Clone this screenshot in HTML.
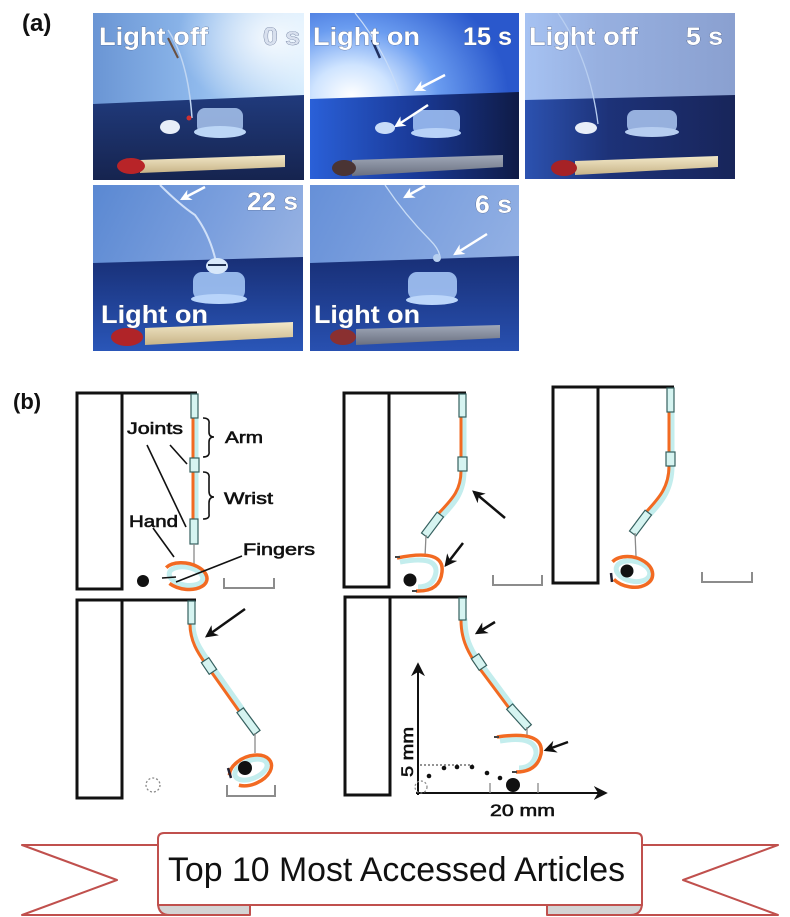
<!DOCTYPE html>
<html><head><meta charset="utf-8"><style>
html,body{margin:0;padding:0;background:#fff;}
svg{display:block;}
.pt{font-family:"Liberation Sans",Arial,sans-serif;font-weight:bold;font-size:25px;fill:#fff;stroke:#45577f;stroke-width:0.6;paint-order:stroke;}
.lb{font-family:"Liberation Sans",Arial,sans-serif;font-size:17px;fill:#111;stroke:#111;stroke-width:0.6;}
.ol{fill:none;stroke:#111;stroke-width:3;}
.cy{fill:none;stroke:#c3eded;stroke-width:7;stroke-linecap:round;}
.or{fill:none;stroke:#f26a22;stroke-width:3;stroke-linecap:round;}
.jt{fill:#d6f4f1;stroke:#35605f;stroke-width:1.2;}
.gl{stroke:#8a8a8a;stroke-width:1.3;fill:none;}
.sb{stroke:#8c8c8c;stroke-width:2;fill:none;}
.ar{stroke:#111;stroke-width:2.5;fill:none;marker-end:url(#ah);}
.wa{stroke:#fff;stroke-width:2.5;fill:none;marker-end:url(#wh);}
</style></head><body>
<svg width="790" height="917" viewBox="0 0 790 917" xmlns="http://www.w3.org/2000/svg">
<defs>
<marker id="ah" viewBox="0 0 10 10" refX="8" refY="5" markerWidth="5" markerHeight="5" orient="auto"><path d="M0,0 L10,5 L0,10 L3,5 z" fill="#111"/></marker>
<marker id="wh" viewBox="0 0 10 10" refX="8" refY="5" markerWidth="4.5" markerHeight="4.5" orient="auto"><path d="M0,0 L10,5 L0,10 L3,5 z" fill="#fff"/></marker>
<marker id="ax" viewBox="0 0 10 10" refX="8" refY="5" markerWidth="7" markerHeight="7" orient="auto"><path d="M0,0 L10,5 L0,10 L3,5 z" fill="#111"/></marker>
<clipPath id="c1"><rect x="93" y="13" width="211" height="167"/></clipPath>
<clipPath id="c2"><rect x="310" y="13" width="209" height="166"/></clipPath>
<clipPath id="c3"><rect x="525" y="13" width="210" height="166"/></clipPath>
<clipPath id="c4"><rect x="93" y="185" width="210" height="166"/></clipPath>
<clipPath id="c5"><rect x="310" y="185" width="209" height="166"/></clipPath>
<linearGradient id="g1u" x1="0" y1="0" x2="1" y2="0"><stop offset="0" stop-color="#6a95d4"/><stop offset="0.5" stop-color="#8fb9ec"/><stop offset="1" stop-color="#cde8fd"/></linearGradient>
<radialGradient id="g1g" cx="0.85" cy="0.15" r="0.45"><stop offset="0" stop-color="#ffffff" stop-opacity="0.85"/><stop offset="1" stop-color="#ffffff" stop-opacity="0"/></radialGradient>
<linearGradient id="g1t" x1="0" y1="0" x2="0" y2="1"><stop offset="0" stop-color="#203a7c"/><stop offset="1" stop-color="#16244f"/></linearGradient>
<radialGradient id="g2u" cx="0.2" cy="0.5" r="0.75"><stop offset="0" stop-color="#ffffff"/><stop offset="0.25" stop-color="#cfe4ff"/><stop offset="0.55" stop-color="#6a9cf0"/><stop offset="1" stop-color="#2a58cc"/></radialGradient>
<linearGradient id="g2t" x1="0" y1="0" x2="1" y2="0"><stop offset="0" stop-color="#2a60d8"/><stop offset="0.5" stop-color="#1a3a98"/><stop offset="1" stop-color="#0f1b46"/></linearGradient>
<linearGradient id="g3u" x1="0" y1="0" x2="1" y2="0"><stop offset="0" stop-color="#a6c2f2"/><stop offset="0.35" stop-color="#97b0e0"/><stop offset="1" stop-color="#8aa0d0"/></linearGradient>
<linearGradient id="g3t" x1="0" y1="0" x2="1" y2="0"><stop offset="0" stop-color="#2c52b0"/><stop offset="0.4" stop-color="#1d3278"/><stop offset="1" stop-color="#18255a"/></linearGradient>
<linearGradient id="g4u" x1="0" y1="0" x2="1" y2="0.4"><stop offset="0" stop-color="#5a88d2"/><stop offset="0.6" stop-color="#7ca0de"/><stop offset="1" stop-color="#97b2e2"/></linearGradient>
<linearGradient id="g4t" x1="0" y1="0" x2="0" y2="1"><stop offset="0" stop-color="#182f76"/><stop offset="1" stop-color="#2a56b8"/></linearGradient>
<linearGradient id="g5u" x1="0" y1="0" x2="1" y2="0.4"><stop offset="0" stop-color="#6690d8"/><stop offset="1" stop-color="#92b0e4"/></linearGradient>
<linearGradient id="g5t" x1="0" y1="0" x2="0" y2="1"><stop offset="0" stop-color="#182f76"/><stop offset="1" stop-color="#2850b0"/></linearGradient>
<linearGradient id="stk" x1="0" y1="0" x2="0" y2="1"><stop offset="0" stop-color="#f2e8c8"/><stop offset="1" stop-color="#c8b488"/></linearGradient>
<linearGradient id="stk2" x1="0" y1="0" x2="0" y2="1"><stop offset="0" stop-color="#a0a8b8"/><stop offset="1" stop-color="#6a7080"/></linearGradient>
</defs>
<rect width="790" height="917" fill="#fff"/>

<text x="22" y="31" font-family="Liberation Sans, Arial, sans-serif" font-weight="bold" font-size="24" fill="#111">(a)</text>

<!-- Panel 1 -->
<g clip-path="url(#c1)">
<rect x="93" y="13" width="211" height="167" fill="url(#g1u)"/>
<rect x="93" y="13" width="211" height="167" fill="url(#g1g)"/>
<polygon points="93,104 304,95 304,180 93,180" fill="url(#g1t)"/>
<path d="M168,30 Q188,60 192,118" stroke="#c0d6f2" stroke-width="1.5" fill="none"/>
<path d="M168,38 L178,58" stroke="#6a5040" stroke-width="2"/>
<rect x="197" y="108" width="46" height="26" rx="8" fill="#a9c6ee" opacity="0.85"/>
<ellipse cx="220" cy="132" rx="26" ry="6" fill="#bcd6f6"/>
<ellipse cx="170" cy="127" rx="10" ry="7" fill="#e8eef8"/>
<circle cx="189" cy="118" r="2.5" fill="#d03030"/>
<polygon points="140,160 285,155 285,167 140,173" fill="url(#stk)"/>
<ellipse cx="131" cy="166" rx="14" ry="8" fill="#b82428"/>
</g>
<text class="pt" x="99" y="45" textLength="109" lengthAdjust="spacingAndGlyphs">Light off</text>
<text class="pt" x="263" y="45" textLength="37" lengthAdjust="spacingAndGlyphs" style="fill:#d8e0ee">0 s</text>

<!-- Panel 2 -->
<g clip-path="url(#c2)">
<rect x="310" y="13" width="209" height="166" fill="url(#g2u)"/>
<polygon points="310,99 519,92 519,179 310,179" fill="url(#g2t)"/>
<path d="M355,13 Q385,50 400,95" stroke="#c8dcf8" stroke-width="1.2" fill="none"/>
<path d="M372,40 L380,58" stroke="#203060" stroke-width="2.5"/>
<rect x="413" y="110" width="47" height="25" rx="8" fill="#9cbef2" opacity="0.9"/>
<ellipse cx="436" cy="133" rx="25" ry="5" fill="#b8d2f8"/>
<ellipse cx="385" cy="128" rx="10" ry="6" fill="#c8dcf8"/>
<polygon points="352,160 503,155 503,167 352,176" fill="url(#stk2)"/>
<ellipse cx="344" cy="168" rx="12" ry="8" fill="#4a3434"/>
<path class="wa" d="M445,75 L416,90"/>
<path class="wa" d="M428,105 L396,126"/>
</g>
<text class="pt" x="313" y="45" textLength="107" lengthAdjust="spacingAndGlyphs">Light on</text>
<text class="pt" x="463" y="45" textLength="49" lengthAdjust="spacingAndGlyphs">15 s</text>

<!-- Panel 3 -->
<g clip-path="url(#c3)">
<rect x="525" y="13" width="210" height="166" fill="url(#g3u)"/>
<polygon points="525,100 735,95 735,179 525,179" fill="url(#g3t)"/>
<path d="M558,13 Q590,60 598,124" stroke="#b8cef0" stroke-width="1.3" fill="none"/>
<rect x="627" y="110" width="50" height="23" rx="8" fill="#a4bfea" opacity="0.9"/>
<ellipse cx="652" cy="132" rx="27" ry="5" fill="#b6cdf0"/>
<ellipse cx="586" cy="128" rx="11" ry="6" fill="#e8eef8"/>
<polygon points="575,161 718,156 718,167 575,175" fill="url(#stk)"/>
<ellipse cx="564" cy="168" rx="13" ry="8" fill="#a62226"/>
</g>
<text class="pt" x="529" y="45" textLength="109" lengthAdjust="spacingAndGlyphs">Light off</text>
<text class="pt" x="686" y="45" textLength="37" lengthAdjust="spacingAndGlyphs">5 s</text>

<!-- Panel 4 -->
<g clip-path="url(#c4)">
<rect x="93" y="185" width="210" height="166" fill="url(#g4u)"/>
<polygon points="93,263 303,257 303,351 93,351" fill="url(#g4t)"/>
<path d="M160,185 Q180,205 195,215 Q210,235 216,262" stroke="#d0e0f8" stroke-width="2" fill="none"/>
<path class="wa" d="M205,187 L182,199"/>
<rect x="193" y="272" width="52" height="28" rx="9" fill="#a2c4f4" opacity="0.9"/>
<ellipse cx="219" cy="299" rx="28" ry="5" fill="#b8d4fa"/>
<ellipse cx="217" cy="266" rx="11" ry="8" fill="#d8e8fa"/>
<path d="M208,265 L226,265" stroke="#203050" stroke-width="2"/>
<polygon points="145,328 293,322 293,337 145,345" fill="url(#stk)"/>
<ellipse cx="127" cy="337" rx="16" ry="9" fill="#b02428"/>
</g>
<text class="pt" x="247" y="210" textLength="51" lengthAdjust="spacingAndGlyphs">22 s</text>
<text class="pt" x="101" y="323" textLength="107" lengthAdjust="spacingAndGlyphs">Light on</text>

<!-- Panel 5 -->
<g clip-path="url(#c5)">
<rect x="310" y="185" width="209" height="166" fill="url(#g5u)"/>
<polygon points="310,263 519,256 519,351 310,351" fill="url(#g5t)"/>
<path d="M385,185 Q405,215 430,240 Q440,250 440,258" stroke="#c8dcf6" stroke-width="1.3" fill="none"/>
<path class="wa" d="M425,186 L405,197"/>
<path class="wa" d="M487,234 L455,254"/>
<circle cx="437" cy="258" r="4" fill="#b8d0f0"/>
<rect x="408" y="272" width="49" height="28" rx="9" fill="#a4c4f4" opacity="0.9"/>
<ellipse cx="432" cy="300" rx="26" ry="5" fill="#bcd6fa"/>
<polygon points="356,329 500,325 500,338 356,345" fill="url(#stk2)"/>
<ellipse cx="343" cy="337" rx="13" ry="8" fill="#8a3030"/>
</g>
<text class="pt" x="475" y="213" textLength="37" lengthAdjust="spacingAndGlyphs">6 s</text>
<text class="pt" x="314" y="323" textLength="106" lengthAdjust="spacingAndGlyphs">Light on</text>

<text x="13" y="409" font-family="Liberation Sans, Arial, sans-serif" font-weight="bold" font-size="22" fill="#111">(b)</text>

<!-- b1 -->
<rect class="ol" x="77" y="393" width="45" height="196"/>
<path class="ol" d="M122,393 L197,393"/>
<path class="cy" d="M195,418 L195,458 M195,472 L195,519"/>
<path class="or" d="M193,418 L193,458 M193,472 L193,519"/>
<rect class="jt" x="191" y="394" width="7" height="24"/>
<rect class="jt" x="190" y="458" width="9" height="14"/>
<rect class="jt" x="190" y="519" width="8" height="25"/>
<path class="gl" d="M194,544 L194,564"/>
<g transform="rotate(10 185 576)">
<ellipse cx="186" cy="576" rx="17" ry="9" fill="none" stroke="#c3eded" stroke-width="5"/>
<path d="M165,571 A22,13 0 1,1 171,586" fill="none" stroke="#f26a22" stroke-width="3.5"/>
</g>
<circle cx="143" cy="581" r="6" fill="#111"/>
<path d="M162,578 L176,577" stroke="#111" stroke-width="1.5"/>
<path d="M242,556 L176,582" stroke="#111" stroke-width="1.6"/>
<path d="M153,528 L174,557" stroke="#111" stroke-width="1.6"/>
<path d="M147,445 L186,527" stroke="#111" stroke-width="1.6"/>
<path d="M170,445 L187,464" stroke="#111" stroke-width="1.6"/>
<path d="M203,418 Q210,418 209,424 L209,432 Q209,437 214,437 Q209,437 209,442 L209,451 Q210,457 203,457" fill="none" stroke="#111" stroke-width="1.6"/>
<path d="M203,472 Q210,472 209,478 L209,491 Q209,497 214,497 Q209,497 209,503 L209,514 Q210,519 203,519" fill="none" stroke="#111" stroke-width="1.6"/>
<text class="lb" x="127" y="434" textLength="56" lengthAdjust="spacingAndGlyphs">Joints</text>
<text class="lb" x="225" y="443" textLength="38" lengthAdjust="spacingAndGlyphs">Arm</text>
<text class="lb" x="224" y="504" textLength="49" lengthAdjust="spacingAndGlyphs">Wrist</text>
<text class="lb" x="129" y="527" textLength="49" lengthAdjust="spacingAndGlyphs">Hand</text>
<text class="lb" x="243" y="555" textLength="72" lengthAdjust="spacingAndGlyphs">Fingers</text>
<path class="sb" d="M224,578 L224,588 L274,588 L274,578"/>

<!-- b2 -->
<rect class="ol" x="344" y="393" width="45" height="194"/>
<path class="ol" d="M389,393 L466,393"/>
<path class="cy" d="M463,417 L463,457 M463,471 C463,492 454,502 442,515"/>
<path class="or" d="M461,417 L461,457 M461,471 C461,491 451,500 439,513"/>
<rect class="jt" x="459" y="394" width="7" height="23"/>
<rect class="jt" x="458" y="457" width="9" height="14"/>
<rect class="jt" transform="translate(432.5,525) rotate(126.9)" x="-13" y="-4" width="26" height="8"/>
<path class="gl" d="M426,535 L425,557"/>
<path d="M400,562 Q437,555 436,572 Q434,587 418,587" fill="none" stroke="#c3eded" stroke-width="5"/>
<path d="M397,558 Q445,548 442,572 Q440,592 416,591" fill="none" stroke="#f26a22" stroke-width="3.5"/>
<path d="M395,557 L400,557 M412,591 L417,591" stroke="#444" stroke-width="2"/>
<circle cx="410" cy="580" r="6.5" fill="#111"/>
<path class="ar" d="M505,518 L474,492"/>
<path class="ar" d="M463,543 L446,565"/>
<path class="sb" d="M493,575 L493,585 L542,585 L542,575"/>

<!-- b3 -->
<rect class="ol" x="553" y="387" width="45" height="196"/>
<path class="ol" d="M598,387 L674,387"/>
<path class="cy" d="M671,412 L671,452 M671,466 C671,488 662,500 650,513"/>
<path class="or" d="M669,412 L669,452 M669,466 C669,487 659,498 647,511"/>
<rect class="jt" x="667" y="388" width="7" height="24"/>
<rect class="jt" x="666" y="452" width="9" height="14"/>
<rect class="jt" transform="translate(640.5,523) rotate(126.9)" x="-13" y="-4" width="26" height="8"/>
<path class="gl" d="M635,533 L636,556"/>
<g transform="rotate(12 632 571)">
<ellipse cx="633" cy="571" rx="17" ry="10" fill="none" stroke="#c3eded" stroke-width="5"/>
<path d="M611,566 A22,15 0 1,1 616,583" fill="none" stroke="#f26a22" stroke-width="3.5"/>
</g>
<path d="M611,573 L612,582" stroke="#223" stroke-width="2.5"/>
<circle cx="627" cy="571" r="6.5" fill="#111"/>
<path class="sb" d="M702,572 L702,582 L752,582 L752,572"/>

<!-- b4 -->
<rect class="ol" x="77" y="600" width="45" height="198"/>
<path class="ol" d="M122,600 L196,600"/>
<path class="cy" d="M192,624 C192,640 201,652 208,662 L242,710"/>
<path class="or" d="M190,624 C190,641 198,653 205,663 L239,711"/>
<rect class="jt" x="188" y="601" width="7" height="23"/>
<rect class="jt" transform="translate(209,666) rotate(56)" x="-7" y="-4.5" width="14" height="9"/>
<rect class="jt" transform="translate(248.5,721.5) rotate(53.5)" x="-14" y="-4" width="28" height="8"/>
<path class="gl" d="M255,733 L255,753"/>
<g transform="rotate(-22 250 770)">
<ellipse cx="251" cy="770" rx="17" ry="9" fill="none" stroke="#c3eded" stroke-width="5"/>
<path d="M229,767 A22,14 0 1,1 234,780" fill="none" stroke="#f26a22" stroke-width="3.5"/>
</g>
<path d="M228,768 L231,778" stroke="#223" stroke-width="2.5"/>
<circle cx="245" cy="768" r="7" fill="#111"/>
<circle cx="153" cy="785" r="7" fill="none" stroke="#888" stroke-width="1.3" stroke-dasharray="2,2"/>
<path class="ar" d="M245,609 L207,636"/>
<path class="sb" d="M227,785 L227,796 L275,796 L275,785"/>

<!-- b5 -->
<rect class="ol" x="345" y="597" width="45" height="198"/>
<path class="ol" d="M390,597 L467,597"/>
<path class="cy" d="M464,620 C464,638 470,650 477,660 L512,707"/>
<path class="or" d="M461,620 C461,638 467,650 474,661 L509,708"/>
<rect class="jt" x="459" y="598" width="7" height="22"/>
<rect class="jt" transform="translate(479,662) rotate(56)" x="-7" y="-4.5" width="14" height="9"/>
<rect class="jt" transform="translate(519,717) rotate(48)" x="-14" y="-4" width="28" height="8"/>
<path class="gl" d="M527,727 L527,737"/>
<path d="M500,741 Q537,735 536,754 Q533,768 519,768" fill="none" stroke="#c3eded" stroke-width="5"/>
<path d="M497,737 Q545,730 541,754 Q537,772 516,772" fill="none" stroke="#f26a22" stroke-width="3.5"/>
<path d="M494,737 L499,737 M512,772 L517,772" stroke="#444" stroke-width="2"/>
<path class="ar" d="M495,622 L477,633"/>
<path class="ar" d="M568,742 L546,750"/>
<path d="M418,795 L418,665" stroke="#111" stroke-width="2" marker-end="url(#ax)"/>
<path d="M416,793 L605,793" stroke="#111" stroke-width="2" marker-end="url(#ax)"/>
<path d="M420,765 L473,765" stroke="#555" stroke-width="1.2" stroke-dasharray="2,2"/>
<path d="M490,783 L490,793 M538,783 L538,793" stroke="#888" stroke-width="1.3"/>
<circle cx="429" cy="776" r="2.3" fill="#111"/>
<circle cx="444" cy="768" r="2.3" fill="#111"/>
<circle cx="457" cy="767" r="2.3" fill="#111"/>
<circle cx="472" cy="767" r="2.3" fill="#111"/>
<circle cx="487" cy="773" r="2.3" fill="#111"/>
<circle cx="500" cy="778" r="2.3" fill="#111"/>
<circle cx="513" cy="785" r="7" fill="#111"/>
<circle cx="421" cy="787" r="6" fill="none" stroke="#888" stroke-width="1.2" stroke-dasharray="2,2"/>
<text class="lb" transform="translate(413,777) rotate(-90)" x="0" y="0" textLength="50" lengthAdjust="spacingAndGlyphs">5 mm</text>
<text class="lb" x="490" y="816" textLength="65" lengthAdjust="spacingAndGlyphs">20 mm</text>

<!-- Banner -->
<g stroke="#c0504d" stroke-width="2" stroke-linejoin="round">
<polygon points="22,845 200,845 200,915 22,915 117,880" fill="#fff"/>
<polygon points="778,845 590,845 590,915 778,915 683,880" fill="#fff"/>
<path d="M158,903 Q158,915 170,915 L250,915 L250,903 Z" fill="#d4d4d4"/>
<path d="M642,903 Q642,915 630,915 L547,915 L547,903 Z" fill="#d4d4d4"/>
<path d="M164,833 L636,833 Q642,833 642,839 L642,905 L158,905 L158,839 Q158,833 164,833 Z" fill="#fff"/>
</g>
<text x="168" y="881" font-family="Liberation Sans, Arial, sans-serif" font-size="34" fill="#111" textLength="457" lengthAdjust="spacingAndGlyphs">Top 10 Most Accessed Articles</text>
</svg>
</body></html>
